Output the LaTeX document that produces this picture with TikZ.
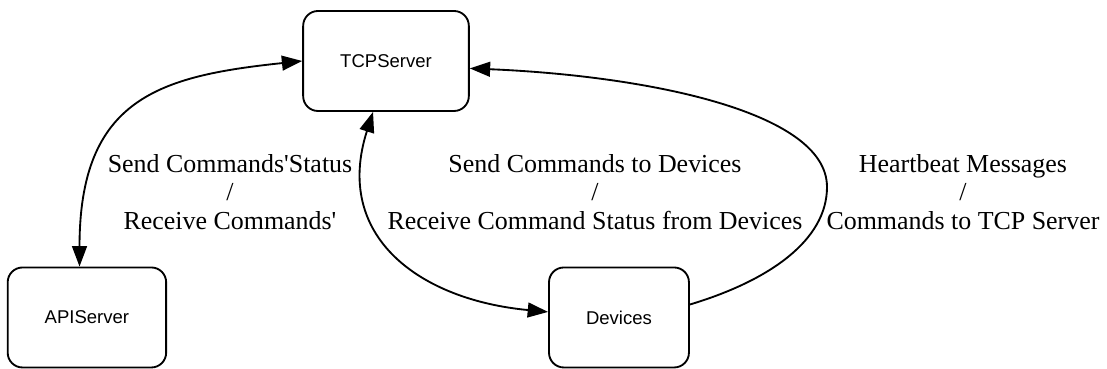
\documentclass[tikz,border=0pt]{standalone}
\usepackage{fontspec}
\newfontfamily\boxfont{Liberation Sans}
\newfontfamily\labelfont{Liberation Serif}
\usetikzlibrary{arrows.meta,positioning}

\begin{document}
\begin{tikzpicture}[x=0.54pt,y=0.54pt,>={Triangle[length=11pt,width=8pt]},
                    line width=1pt,
                    main node/.style={rectangle,rounded corners=8pt,draw,
                      font=\boxfont\fontsize{10}{12}\selectfont,
                      inner xsep=20pt,minimum height=54pt},
                    edge label/.style={align=center,
                      font=\labelfont\fontsize{14}{15.4}\selectfont}]
  \useasboundingbox (0,0) rectangle (1107,369);
  \node[main node] (tcp) at (386,308) {TCPServer};
  \node[main node] (api) [on grid,below left=138.5pt and 161.5pt of tcp] {APIServer};
  \node[main node] (dev) [on grid,below right=138.5pt and 125.8pt of tcp] {Devices};
  \coordinate (turn) at (827,182);
  \draw[<->] (tcp.west) .. controls +(-143,-15) and +(0,168) .. ([xshift=-4pt]api.north);
  \draw[<->] ([xshift=-7pt]tcp.south) .. controls +(-40,-125) and +(-128,12) .. ([yshift=3pt]dev.west);
  \draw[->] ([yshift=7pt]dev.east) .. controls +(80,24) and +(0,-53) .. (turn)
    .. controls +(0,77) and +(170,-7) .. ([yshift=-4pt]tcp.east);
  \node[edge label] (sendapi) at (230,177) {Send Commands'Status\\/\\Receive Commands'};
  \node[edge label] (senddev) at (595,177) {Send Commands to Devices\\/\\Receive Command Status from Devices};
  \node[edge label] (heartbeat) at (963,177) {Heartbeat Messages\\/\\Commands to TCP Server};
\end{tikzpicture}
\end{document}
